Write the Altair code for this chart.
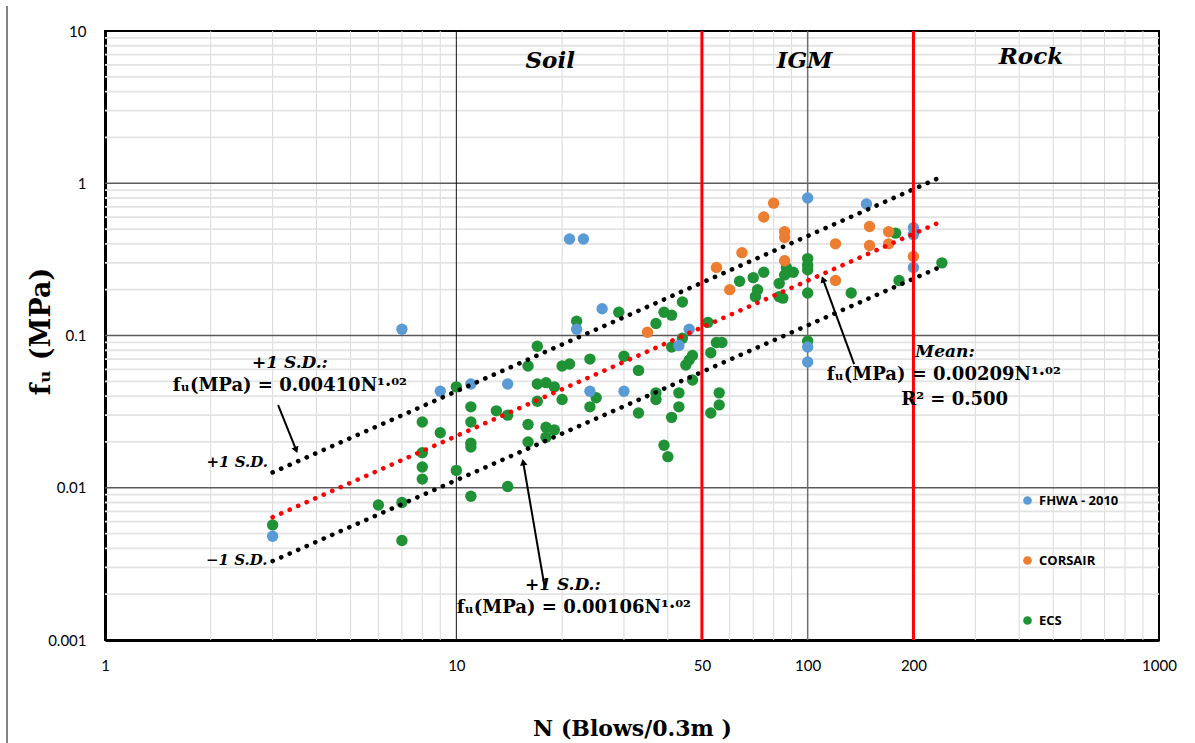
import altair as alt
import pandas as pd

# ---------------- data ----------------
fhwa_n = [3, 7, 9, 11, 14, 21, 23, 22, 26, 24, 30, 46, 43, 100, 100, 100, 147, 200, 200, 200]
fhwa_fu = [0.0048, 0.11, 0.043, 0.048, 0.048, 0.43, 0.43, 0.11, 0.15, 0.043, 0.043, 0.11, 0.086,
           0.80, 0.084, 0.067, 0.73, 0.51, 0.46, 0.28]

corsair_n = [80, 75, 86, 86, 65, 55, 86, 60, 120, 120, 150, 150, 170, 170, 200, 35]
corsair_fu = [0.74, 0.60, 0.48, 0.44, 0.35, 0.28, 0.31, 0.20, 0.40, 0.23, 0.52, 0.39, 0.48, 0.40,
              0.33, 0.105]

ecs_n = [3, 6, 7, 7, 8, 8, 8, 8, 9, 10, 10, 11, 11, 11, 11, 11, 13, 14, 14, 16, 16, 16, 17, 17, 17,
         18, 18, 18, 19, 19, 20, 20, 21, 22, 24, 24, 25, 29, 30, 33, 33, 37, 37, 37, 39, 41, 44, 41,
         39, 40, 41, 43, 43, 44, 45, 46, 47, 47, 52, 53, 55, 57, 56, 56, 53, 64, 70, 75, 72, 71, 83,
         83, 85, 87, 88, 91, 86, 100, 100, 100, 100, 100, 133, 182, 178, 241]
ecs_fu = [0.0057, 0.0077, 0.008, 0.0045, 0.027, 0.017, 0.0137, 0.0114, 0.023, 0.046, 0.013, 0.034,
          0.027, 0.0196, 0.0185, 0.0088, 0.032, 0.030, 0.0102, 0.063, 0.026, 0.020, 0.085, 0.048,
          0.037, 0.049, 0.025, 0.0215, 0.046, 0.024, 0.063, 0.038, 0.065, 0.124, 0.070, 0.034,
          0.039, 0.142, 0.073, 0.059, 0.031, 0.12, 0.042, 0.038, 0.142, 0.136, 0.166, 0.084, 0.019,
          0.016, 0.029, 0.042, 0.034, 0.096, 0.064, 0.069, 0.074, 0.051, 0.122, 0.077, 0.09, 0.09,
          0.042, 0.035, 0.031, 0.227, 0.24, 0.26, 0.20, 0.18, 0.22, 0.18, 0.176, 0.28, 0.26, 0.26,
          0.25, 0.32, 0.29, 0.27, 0.19, 0.092, 0.19, 0.23, 0.47, 0.30]

series_names = ["FHWA - 2010", "CORSAIR", "ECS"]
series_colors = ["#5B9BD5", "#ED7D31", "#1E9234"]

# trend lines (end points)
fit_n = [3, 240]
fit_mean = [0.0064, 0.56]
fit_plus = [0.0126, 1.10]
fit_minus = [0.0033, 0.284]

# axis ticks / grid positions
x_ticks = [1, 10, 50, 100, 200, 1000]
y_ticks = [0.001, 0.01, 0.1, 1, 10]
x_minor = [2, 3, 4, 5, 6, 7, 8, 9, 20, 30, 40, 50, 60, 70, 80, 90, 200, 300, 400, 500, 600, 700, 800, 900]
y_minor = [0.002, 0.003, 0.004, 0.005, 0.006, 0.007, 0.008, 0.009,
           0.02, 0.03, 0.04, 0.05, 0.06, 0.07, 0.08, 0.09,
           0.2, 0.3, 0.4, 0.5, 0.6, 0.7, 0.8, 0.9,
           2, 3, 4, 5, 6, 7, 8, 9]
x_major_dark = [10]
x_major_gray = [100]
y_major = [0.01, 0.1, 1]
zone_bounds = [50, 200]

# zone labels
zone_text = ["Soil", "IGM", "Rock"]
zone_n = [18.5, 98, 432]
zone_fu = [6.4, 6.4, 6.7]

# annotations
sd_text = ["+1 S.D.:", "+1 S.D.", "\u22121 S.D.", "+1 S.D.:", "Mean:"]
sd_n = [3.36, 2.91, 2.90, 20.1, 246]
sd_fu = [0.0658, 0.0147, 0.00335, 0.00229, 0.0777]
sd_align = ["center", "right", "right", "center", "center"]

eq_text = ["f\u1d64(MPa) = 0.00410N\u00b9\u00b7\u2070\u00b2",
           "f\u1d64(MPa) = 0.00106N\u00b9\u00b7\u2070\u00b2",
           "f\u1d64(MPa) = 0.00209N\u00b9\u00b7\u2070\u00b2",
           "R\u00b2 = 0.500"]
eq_n = [3.36, 21.6, 244, 262]
eq_fu = [0.0465, 0.00162, 0.0549, 0.0376]

# arrows: tail -> head
arrow_n1 = [3.11, 17.9, 135.6]
arrow_f1 = [0.0349, 0.00213, 0.0648]
arrow_n2 = [3.50, 15.5, 110.6]
arrow_f2 = [0.0177, 0.0147, 0.234]
arrow_angle = [158, 350, 340]

# ---------------- tables ----------------
pts = pd.concat([
    pd.DataFrame({"N": ecs_n, "fu": ecs_fu, "src": "ECS", "ord": 0}),
    pd.DataFrame({"N": corsair_n, "fu": corsair_fu, "src": "CORSAIR", "ord": 1}),
    pd.DataFrame({"N": fhwa_n, "fu": fhwa_fu, "src": "FHWA - 2010", "ord": 2}),
], ignore_index=True)

fits = pd.concat([
    pd.DataFrame({"N": fit_n, "fu": fit_plus, "line": "plus"}),
    pd.DataFrame({"N": fit_n, "fu": fit_minus, "line": "minus"}),
    pd.DataFrame({"N": fit_n, "fu": fit_mean, "line": "mean"}),
], ignore_index=True)

arrows = pd.DataFrame({"n1": arrow_n1, "f1": arrow_f1, "n2": arrow_n2, "f2": arrow_f2,
                       "ang": arrow_angle})

xs = alt.Scale(type="log", domain=[1, 1000], nice=False)
ys = alt.Scale(type="log", domain=[0.001, 10], nice=False)

label_font = "Lato"
serif = "DejaVu Serif"

x_axis = alt.Axis(values=x_ticks, format="d", grid=False, ticks=False,
                  domainColor="black", domainWidth=3,
                  labelFont=label_font, labelFontSize=15, labelColor="black", labelPadding=18,
                  labelFlush=False,
                  title="N (Blows/0.3m )", titleFont=serif, titleFontSize=22,
                  titleFontWeight="bold", titleColor="black",
                  titleX=527, titleY=88, titleAlign="center", titleBaseline="middle")
y_axis = alt.Axis(values=y_ticks, format="~g", grid=False, ticks=False,
                  domainColor="black", domainWidth=3,
                  labelFont=label_font, labelFontSize=15, labelColor="black", labelPadding=19,
                  labelFlush=False,
                  title="f\u1d64 (MPa)", titleFont=serif, titleFontSize=27,
                  titleFontWeight="bold", titleColor="black", titleAngle=-90,
                  titleX=-64, titleY=300, titleAlign="center", titleBaseline="middle")


def X(field):
    return alt.X(field, type="quantitative", scale=xs, axis=x_axis)


def Y(field):
    return alt.Y(field, type="quantitative", scale=ys, axis=y_axis)


def vrules(vals, color, width):
    return alt.Chart(pd.DataFrame({"v": vals})).mark_rule(color=color, strokeWidth=width).encode(
        x=X("v"))


def hrules(vals, color, width):
    return alt.Chart(pd.DataFrame({"v": vals})).mark_rule(color=color, strokeWidth=width).encode(
        y=Y("v"))


grid_layers = [
    vrules(x_minor, "#d9d9d9", 1),
    hrules(y_minor, "#e3e3e3", 1.8),
    hrules(y_major, "#5a5a5a", 1.5),
    vrules(x_major_gray, "#6e6e6e", 1.5),
    vrules(x_major_dark, "#111111", 1),
]

points = alt.Chart(pts).mark_circle(size=130, opacity=1).encode(
    x=X("N"),
    y=Y("fu"),
    color=alt.Color("src:N", scale=alt.Scale(domain=series_names, range=series_colors),
                    legend=alt.Legend(title=None, orient="none", legendX=916, legendY=463,
                                      symbolType="circle", symbolSize=75, symbolStrokeWidth=0,
                                      labelFont="Open Sans", labelFontSize=13,
                                      labelFontWeight="bold", labelColor="black",
                                      rowPadding=46, labelOffset=5)),
    order=alt.Order("ord:Q"),
)

sd_lines = alt.Chart(fits).transform_filter("datum.line != 'mean'").mark_line(
    color="black", strokeWidth=4.6, strokeDash=[0.1, 9.2], strokeCap="round").encode(
    x=X("N"), y=Y("fu"), detail="line:N")
mean_line = alt.Chart(fits).transform_filter("datum.line == 'mean'").mark_line(
    color="#ff0000", strokeWidth=4.6, strokeDash=[0.1, 9.2], strokeCap="round").encode(
    x=X("N"), y=Y("fu"))

red_bounds = vrules(zone_bounds, "#ff0000", 3)

arrow_lines = alt.Chart(arrows).mark_rule(color="black", strokeWidth=2).encode(
    x=X("n1"), y=Y("f1"), x2="n2:Q", y2="f2:Q")
arrow_heads = alt.Chart(arrows).mark_point(shape="triangle-up", filled=True, color="black",
                                          size=55, opacity=1).encode(
    x=X("n2"), y=Y("f2"), angle=alt.Angle("ang:Q", scale=None))

zones = alt.Chart(pd.DataFrame({"t": zone_text, "N": zone_n, "fu": zone_fu})).mark_text(
    font=serif, fontSize=23, fontWeight="bold", fontStyle="italic", color="black").encode(
    x=X("N"), y=Y("fu"), text="t:N")

sd_df = pd.DataFrame({"t": sd_text, "N": sd_n, "fu": sd_fu, "al": sd_align})
sd_center = alt.Chart(sd_df).transform_filter("datum.al == 'center'").mark_text(
    font=serif, fontSize=17, fontWeight="bold", fontStyle="italic", color="black").encode(
    x=X("N"), y=Y("fu"), text="t:N")
sd_right = alt.Chart(sd_df).transform_filter("datum.al == 'right'").mark_text(
    font=serif, fontSize=15, fontWeight="bold", fontStyle="italic", color="black",
    align="right").encode(
    x=X("N"), y=Y("fu"), text="t:N")

eqs = alt.Chart(pd.DataFrame({"t": eq_text, "N": eq_n, "fu": eq_fu})).mark_text(
    font=serif, fontSize=18, fontWeight="bold", color="black").encode(
    x=X("N"), y=Y("fu"), text="t:N")

frame_line = alt.Chart(pd.DataFrame({"a": [0]})).mark_rule(color="#333333", strokeWidth=1.2).encode(
    x=alt.value(-98), y=alt.value(-25), y2=alt.value(712))

chart = alt.layer(
    *grid_layers, points, sd_lines, mean_line, red_bounds, arrow_lines, arrow_heads,
    zones, sd_center, sd_right, eqs, frame_line
).properties(
    width=1054, height=609,
    autosize=alt.AutoSizeParams(type="none"),
    padding={"left": 105, "top": 31, "right": 36, "bottom": 103},
    background="white",
).configure_view(stroke="black", strokeWidth=2)

chart.save("out.html", embed_options={"renderer": "svg", "actions": False})
